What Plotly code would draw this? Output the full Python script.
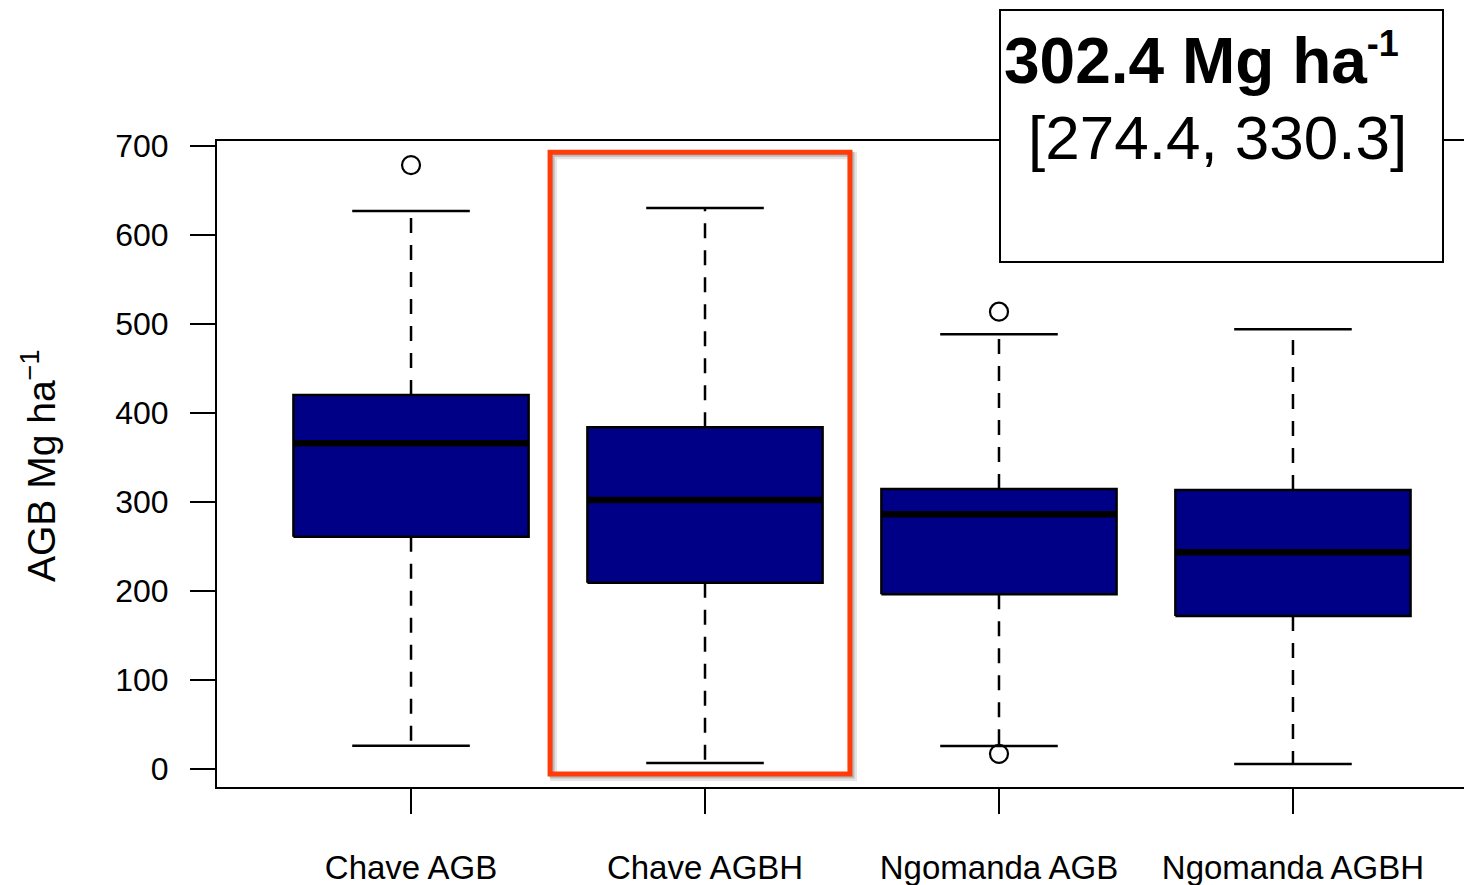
import plotly.graph_objects as go

# ---- data ----
categories = ["Chave AGB", "Chave AGBH", "Ngomanda AGB", "Ngomanda AGBH"]
positions = [1, 2, 3, 4]
lower_whisker = [26.5, 7.1, 26.0, 6.0]
q1 = [261.2, 209.5, 196.5, 172.1]
median = [366.0, 302.4, 286.3, 243.7]
q3 = [420.3, 384.0, 314.7, 313.6]
upper_whisker = [626.9, 630.2, 488.4, 494.0]
outlier_cat = [1, 3, 3]
outlier_val = [678.5, 17.3, 513.8]
y_ticks = [0, 100, 200, 300, 400, 500, 600, 700]
estimate_text = "302.4 Mg ha"
interval_text = "[274.4, 330.3]"

BOX_HALF = 0.4
STAPLE_HALF = 0.2
FONT = "Arial, Liberation Sans, Helvetica, sans-serif"

fig = go.Figure()

# whiskers (dashed)
wx, wy = [], []
for p, lo, a, b, hi in zip(positions, lower_whisker, q1, q3, upper_whisker):
    wx += [p, p, None, p, p, None]
    wy += [b, hi, None, a, lo, None]
fig.add_trace(go.Scatter(x=wx, y=wy, mode="lines",
                         line=dict(color="black", width=2.5, dash="15px,12px"),
                         hoverinfo="skip", showlegend=False))

# staples
sx, sy = [], []
for p, lo, hi in zip(positions, lower_whisker, upper_whisker):
    sx += [p - STAPLE_HALF, p + STAPLE_HALF, None, p - STAPLE_HALF, p + STAPLE_HALF, None]
    sy += [hi, hi, None, lo, lo, None]
fig.add_trace(go.Scatter(x=sx, y=sy, mode="lines",
                         line=dict(color="black", width=2.5),
                         hoverinfo="skip", showlegend=False))

# boxes
for p, a, b, name in zip(positions, q1, q3, categories):
    fig.add_trace(go.Scatter(
        x=[p - BOX_HALF, p + BOX_HALF, p + BOX_HALF, p - BOX_HALF, p - BOX_HALF],
        y=[a, a, b, b, a], mode="lines", fill="toself",
        fillcolor="#000086", line=dict(color="black", width=2.5),
        name=name, showlegend=False))

# medians
mx, my = [], []
for p, m in zip(positions, median):
    mx += [p - BOX_HALF, p + BOX_HALF, None]
    my += [m, m, None]
fig.add_trace(go.Scatter(x=mx, y=my, mode="lines",
                         line=dict(color="black", width=6.5),
                         hoverinfo="skip", showlegend=False))

# outliers
fig.add_trace(go.Scatter(x=outlier_cat, y=outlier_val, mode="markers",
                         marker=dict(symbol="circle-open", size=18, color="black",
                                     line=dict(width=2.2, color="black")),
                         showlegend=False))

# highlight rectangle around the second category (with soft shadow)
for off, col, w in [(0.012, "rgba(0,0,0,0.10)", 7), (0.007, "rgba(0,0,0,0.18)", 5)]:
    fig.add_shape(type="rect", xref="x", yref="y",
                  x0=1.473 + off, x1=2.493 + off, y0=-5.3 - off * 330, y1=692.8 - off * 330,
                  line=dict(color=col, width=w), fillcolor="rgba(0,0,0,0)", layer="above")
fig.add_shape(type="rect", xref="x", yref="y",
              x0=1.473, x1=2.493, y0=-5.3, y1=692.8,
              line=dict(color="#FF3D0A", width=5), fillcolor="rgba(0,0,0,0)", layer="above")

# plot area geometry (pixels) used to place paper-referenced items
PW = 1263.0
PH = 646.0

def px_x(x):  # window x pixel -> paper
    return (x - 217) / PW

def px_y(y):  # window y pixel -> paper
    return (787 - y) / PH

# estimate box
fig.add_shape(type="rect", xref="paper", yref="paper",
              x0=px_x(1000), x1=px_x(1443), y0=px_y(262), y1=px_y(10),
              line=dict(color="black", width=2), fillcolor="white", layer="above")
fig.add_annotation(xref="paper", yref="paper", x=px_x(1002), y=px_y(60),
                   xanchor="left", yanchor="middle", showarrow=False,
                   text="<b>" + estimate_text
                        + "<sup><span style='font-size:36px'>-1</span></sup></b>",
                   font=dict(family=FONT, size=64, color="black"))
fig.add_annotation(xref="paper", yref="paper", x=px_x(1026), y=px_y(138),
                   xanchor="left", yanchor="middle", showarrow=False,
                   text=interval_text,
                   font=dict(family=FONT, size=62, color="black"))

# y-axis title
fig.add_annotation(xref="paper", yref="paper", x=px_x(38), y=px_y(466),
                   xanchor="center", yanchor="middle", showarrow=False,
                   textangle=-90, text="AGB Mg ha<sup>−1</sup>",
                   font=dict(family=FONT, size=39, color="black"))

fig.update_xaxes(range=[0.34, 0.34 + PW / 293.98], tickmode="array", tickvals=positions,
                 ticktext=categories, ticks="outside", ticklen=25, tickwidth=2,
                 tickcolor="black", showline=True, linecolor="black", linewidth=2,
                 mirror=True, showgrid=False, zeroline=False,
                 tickfont=dict(family=FONT, size=33, color="black"),
                 ticklabelstandoff=25)
fig.update_yaxes(range=[-19.9, 705.5], tickmode="array", tickvals=y_ticks,
                 ticks="outside", ticklen=25, tickwidth=2, tickcolor="black",
                 showline=True, linecolor="black", linewidth=2,
                 showgrid=False, zeroline=False,
                 tickfont=dict(family=FONT, size=32, color="black"),
                 ticklabelstandoff=15)

# page body has an 8px margin: size/offset the figure so the plot lands where the reference has it
fig.update_layout(width=1472, height=877,
                  margin=dict(l=209, r=0, t=133, b=98, autoexpand=False),
                  plot_bgcolor="white", paper_bgcolor="white",
                  showlegend=False)

fig.write_html("out.html")
